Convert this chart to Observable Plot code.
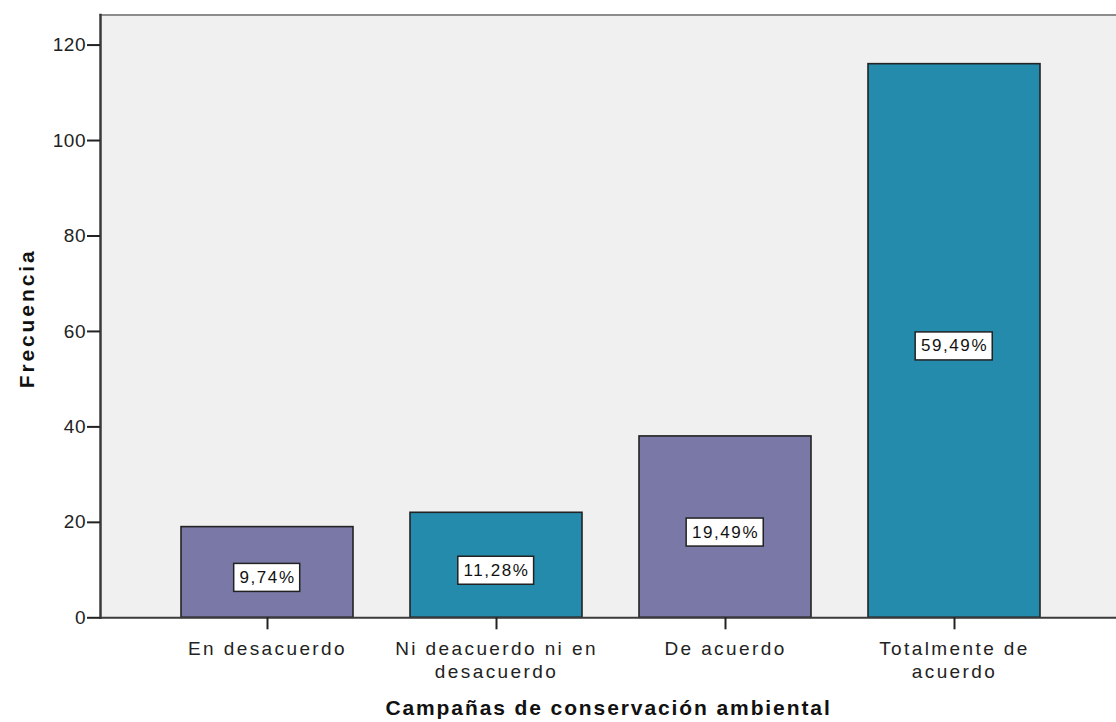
<!DOCTYPE html>
<html><head><meta charset="utf-8">
<script src="https://cdn.jsdelivr.net/npm/d3@7"></script>
<script src="https://cdn.jsdelivr.net/npm/@observablehq/plot@0.6"></script>
<style>
html,body{margin:0;padding:0;background:#fff;}
#chart svg{display:block;}
g[aria-label="x-axis tick label"] text{letter-spacing:2.4px;}
g[aria-label="y-axis tick label"] text{letter-spacing:0.5px;}
text[aria-label="pct"]{letter-spacing:1.6px;}
text[aria-label="xtitle"]{letter-spacing:1.9px;}
text[aria-label="ytitle"]{letter-spacing:2.9px;}
</style></head>
<body><div id="chart"></div>
<script>
const categories = ["En desacuerdo", "Ni deacuerdo ni en desacuerdo", "De acuerdo", "Totalmente de acuerdo"];
const tickLabels = ["En desacuerdo", "Ni deacuerdo ni en\ndesacuerdo", "De acuerdo", "Totalmente de\nacuerdo"];
const frequencies = [19, 22, 38, 116];
const percentLabels = ["9,74%", "11,28%", "19,49%", "59,49%"];
const barColors = ["#7978a7", "#248bac", "#7978a7", "#248bac"];
const yTicks = [0, 20, 40, 60, 80, 100, 120];
const yMax = 126.3;
const xTitle = "Campañas de conservación ambiental";
const yTitle = "Frecuencia";

const data = categories.map((c, i) => ({cat: c, freq: frequencies[i], pct: percentLabels[i], color: barColors[i]}));

const plot = Plot.plot({
  width: 1116, height: 722,
  marginLeft: 100, marginRight: 0, marginTop: 14.5, marginBottom: 104.7,
  style: {fontFamily: '"Liberation Sans", Arial, sans-serif', fontSize: "18px", color: "#222", background: "#fff", overflow: "visible"},
  x: {domain: categories, paddingInner: 0.248, paddingOuter: 0.333, align: 0.515, axis: null},
  y: {domain: [0, yMax], axis: null},
  color: {type: "identity"},
  marks: [
    Plot.frame({fill: "#f0f0f0", stroke: "none"}),
    Plot.frame({anchor: "top", stroke: "#8c8c8c", strokeWidth: 2}),
    Plot.barY(data, {x: "cat", y: "freq", fill: "color", stroke: "#232323", strokeWidth: 1.6}),
    Plot.frame({anchor: "left", stroke: "#3a3a3a", strokeWidth: 2.5}),
    Plot.ruleY([0], {stroke: "#3a3a3a", strokeWidth: 2}),
    Plot.axisY({ticks: yTicks, tickSize: 13, tickPadding: 1.5, fontSize: 19, strokeWidth: 2, label: null}),
    Plot.axisX({tickSize: 12, tickPadding: 8.5, fontSize: 19, lineHeight: 1.22, strokeWidth: 2,
      tickFormat: d => tickLabels[categories.indexOf(d)], label: null}),
    Plot.text(data, {x: "cat", y: d => d.freq / 2, text: "pct", fontSize: 17, dy: 5, fill: "#111", ariaLabel: () => "pct"}),
    Plot.text([xTitle], {text: d => d, frameAnchor: "bottom", textAnchor: "middle", lineAnchor: "middle", dy: 90, fontWeight: "bold", fontSize: 21, fill: "#111", ariaLabel: () => "xtitle"}),
    Plot.text([yTitle], {text: d => d, frameAnchor: "left", textAnchor: "middle", lineAnchor: "middle", dx: -73.7, dy: 2, rotate: -90, fontWeight: "bold", fontSize: 21, fill: "#111", ariaLabel: () => "ytitle"})
  ]
});
document.getElementById("chart").append(plot);

// white boxes behind percentage labels
const ls = 1.6, padX = 5.7, padY = 4.5;
plot.querySelectorAll('text[aria-label="pct"]').forEach(t => {
  const b = t.getBBox();
  const r = document.createElementNS("http://www.w3.org/2000/svg", "rect");
  r.setAttribute("x", b.x - padX);
  r.setAttribute("y", b.y - padY);
  r.setAttribute("width", b.width - ls + 2 * padX);
  r.setAttribute("height", b.height + 2 * padY);
  r.setAttribute("fill", "#fff");
  r.setAttribute("stroke", "#222");
  r.setAttribute("stroke-width", 1.5);
  const tr = t.getAttribute("transform");
  if (tr) r.setAttribute("transform", tr);
  t.parentNode.insertBefore(r, t);
});
</script>
</body></html>
